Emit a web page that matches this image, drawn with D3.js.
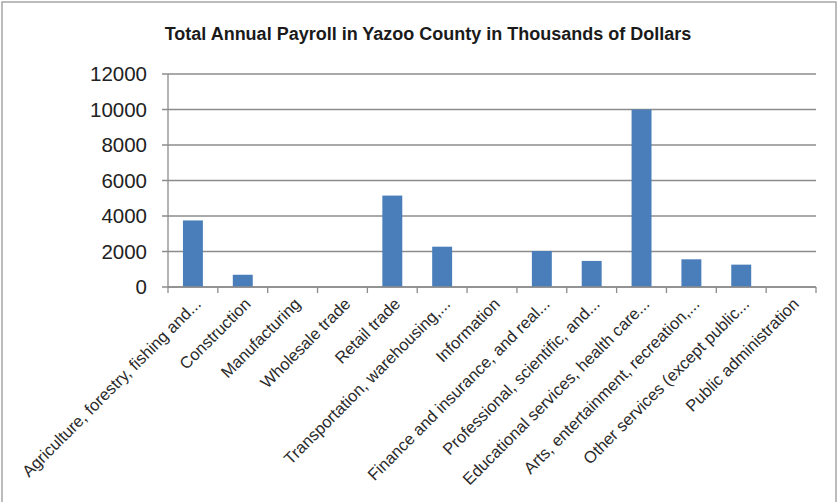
<!DOCTYPE html>
<html>
<head>
<meta charset="utf-8">
<script src="https://cdn.jsdelivr.net/npm/d3@7"></script>
<style>
  html, body { margin: 0; padding: 0; background: #fff; }
  svg { display: block; }
</style>
</head>
<body>
<svg id="chart" width="840" height="502"></svg>
<script>
// Industry sectors (labels as shown on the category axis)
const categories = [
  "Agriculture, forestry, fishing and...",
  "Construction",
  "Manufacturing",
  "Wholesale trade",
  "Retail trade",
  "Transportation, warehousing,...",
  "Information",
  "Finance and insurance, and real...",
  "Professional, scientific, and...",
  "Educational services, health care...",
  "Arts, entertainment, recreation,...",
  "Other services (except public...",
  "Public administration"
];

// Total annual payroll, thousands of dollars
const payroll = [3750, 690, 0, 0, 5150, 2270, 0, 2030, 1470, 10000, 1560, 1260, 0];

// Value axis ticks
const yTicks = [0, 2000, 4000, 6000, 8000, 10000, 12000];

const chartTitle = "Total Annual Payroll in Yazoo County in Thousands of Dollars";

const svg = d3.select("#chart");
const plot = { left: 168, right: 816, top: 74, bottom: 287 };

// Outer frame
svg.append("rect")
  .attr("x", 2).attr("y", 2).attr("width", 834).attr("height", 520)
  .attr("fill", "#fff").attr("stroke", "#a6a6a6").attr("stroke-width", 1.5);

const x = d3.scaleBand()
  .domain(categories)
  .range([plot.left, plot.right])
  .paddingInner(0).paddingOuter(0);

const y = d3.scaleLinear()
  .domain([0, 12000])
  .range([plot.bottom, plot.top]);

// Title
svg.append("text")
  .attr("x", 428).attr("y", 40)
  .attr("text-anchor", "middle")
  .attr("font-family", "'Liberation Sans', Arial, sans-serif")
  .attr("font-weight", "bold")
  .attr("font-size", 18)
  .attr("fill", "#1a1a1a")
  .text(chartTitle);

// Gridlines (extend left past the axis to form tick marks)
svg.append("g")
  .selectAll("line")
  .data(yTicks)
  .join("line")
  .attr("x1", plot.left - 6).attr("x2", plot.right)
  .attr("y1", d => y(d)).attr("y2", d => y(d))
  .attr("stroke", "#8c8c8c").attr("stroke-width", 1.3);

// Y axis line
svg.append("line")
  .attr("x1", plot.left).attr("x2", plot.left)
  .attr("y1", plot.top).attr("y2", plot.bottom)
  .attr("stroke", "#8c8c8c").attr("stroke-width", 1.3);

// Y tick labels
svg.append("g")
  .selectAll("text")
  .data(yTicks)
  .join("text")
  .attr("x", 147)
  .attr("y", d => y(d))
  .attr("dy", "0.35em")
  .attr("text-anchor", "end")
  .attr("font-family", "'Liberation Sans', Arial, sans-serif")
  .attr("font-size", 20.5)
  .attr("fill", "#222")
  .text(d => d);

// Bars
const barW = x.bandwidth() / 2.5;
svg.append("g")
  .selectAll("rect")
  .data(categories.map((c, i) => ({ c, v: payroll[i] })))
  .join("rect")
  .attr("x", d => x(d.c) + (x.bandwidth() - barW) / 2)
  .attr("y", d => y(d.v))
  .attr("width", barW)
  .attr("height", d => y(0) - y(d.v))
  .attr("fill", "#4a7ebb");

// X axis with tick marks at category boundaries
const xAxis = svg.append("g");
xAxis.append("line")
  .attr("x1", plot.left).attr("x2", plot.right)
  .attr("y1", plot.bottom).attr("y2", plot.bottom)
  .attr("stroke", "#8c8c8c").attr("stroke-width", 1.3);
const bounds = categories.map(c => x(c)).concat([plot.right]);
xAxis.selectAll("line.tick")
  .data(bounds)
  .join("line")
  .attr("class", "tick")
  .attr("x1", d => d).attr("x2", d => d)
  .attr("y1", plot.bottom).attr("y2", plot.bottom + 6)
  .attr("stroke", "#8c8c8c").attr("stroke-width", 1.3);

// Rotated category labels
xAxis.selectAll("text")
  .data(categories)
  .join("text")
  .attr("transform", d => `translate(${x(d) + x.bandwidth() / 2 + 9},${plot.bottom + 18}) rotate(-45)`)
  .attr("text-anchor", "end")
  .attr("font-family", "'Liberation Sans', Arial, sans-serif")
  .attr("font-size", 16.5)
  .attr("fill", "#2a2a2a")
  .text(d => d);
</script>
</body>
</html>
